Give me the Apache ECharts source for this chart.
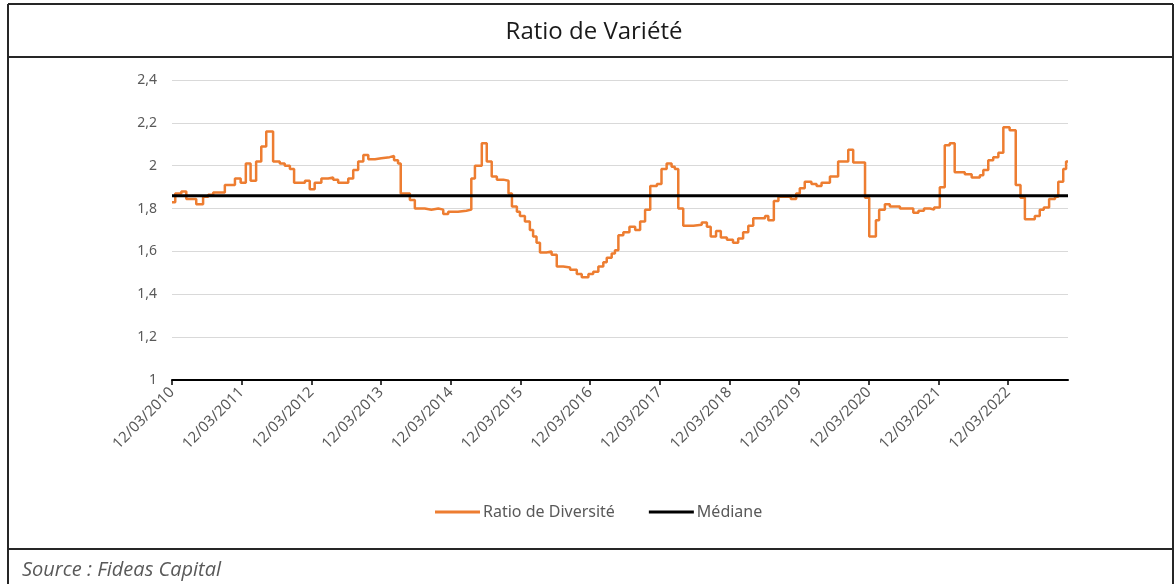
<!DOCTYPE html>
<html>
<head>
<meta charset="utf-8">
<script src="https://cdn.jsdelivr.net/npm/echarts@6/dist/echarts.min.js"></script>
<style>
  html, body { margin: 0; padding: 0; background: #fff; }
  #chart { width: 1176px; height: 584px; }
</style>
</head>
<body>
<div id="chart"></div>
<script>
// dates where the ratio changes level, and the level held from that date on
var stepDates = [
  '2010-03-12', '2010-03-29', '2010-04-30', '2010-05-26', '2010-07-17', '2010-08-22', '2010-09-18', '2010-10-14',
  '2010-12-14', '2011-02-05', '2011-03-07', '2011-04-03', '2011-04-28', '2011-05-27', '2011-06-23', '2011-07-19',
  '2011-08-24', '2011-09-28', '2011-10-24', '2011-11-20', '2011-12-12', '2012-02-07', '2012-03-03', '2012-03-29',
  '2012-05-03', '2012-06-08', '2012-07-04', '2012-07-30', '2012-09-21', '2012-10-17', '2012-11-12', '2012-12-09',
  '2013-01-04', '2013-02-08', '2013-03-13', '2013-04-26', '2013-05-19', '2013-06-09', '2013-06-23', '2013-08-10',
  '2013-09-05', '2013-10-27', '2013-12-01', '2014-01-06', '2014-02-01', '2014-02-27', '2014-04-19', '2014-06-02',
  '2014-06-28', '2014-07-17', '2014-08-22', '2014-09-17', '2014-10-13', '2014-11-09', '2014-12-13', '2015-01-09',
  '2015-01-27', '2015-02-22', '2015-03-10', '2015-04-05', '2015-05-01', '2015-05-18', '2015-06-05', '2015-06-23',
  '2015-07-27', '2015-08-23', '2015-09-19', '2015-10-23', '2015-11-28', '2016-01-02', '2016-01-28', '2016-03-03',
  '2016-03-28', '2016-04-24', '2016-05-20', '2016-06-07', '2016-07-03', '2016-07-20', '2016-08-07', '2016-09-02',
  '2016-10-04', '2016-11-03', '2016-11-29', '2016-12-25', '2017-01-21', '2017-02-25', '2017-03-21', '2017-04-17',
  '2017-05-13', '2017-05-30', '2017-06-17', '2017-07-13', '2017-09-04', '2017-10-18', '2017-11-14', '2017-12-04',
  '2018-01-01', '2018-01-26', '2018-02-27', '2018-03-31', '2018-04-27', '2018-05-23', '2018-06-19', '2018-07-15',
  '2018-09-15', '2018-10-02', '2018-10-31', '2018-11-24', '2019-01-28', '2019-02-25', '2019-03-16', '2019-04-11',
  '2019-05-16', '2019-06-12', '2019-07-08', '2019-08-21', '2019-10-03', '2019-11-25', '2019-12-21', '2020-02-21',
  '2020-03-14', '2020-04-18', '2020-05-05', '2020-06-04', '2020-06-30', '2020-08-22', '2020-10-31', '2020-11-27',
  '2020-12-26', '2021-01-27', '2021-02-17', '2021-03-19', '2021-04-14', '2021-05-10', '2021-06-05', '2021-07-28',
  '2021-09-02', '2021-10-15', '2021-11-02', '2021-11-28', '2021-12-24', '2022-01-20', '2022-02-15', '2022-03-20',
  '2022-04-21', '2022-05-16', '2022-06-08', '2022-07-30', '2022-08-25', '2022-09-15', '2022-10-13', '2022-11-13',
  '2022-11-30', '2022-12-26', '2023-01-10', '2023-01-20'
];
var ratioValues = [
  1.83, 1.87, 1.88, 1.845, 1.82, 1.855, 1.865, 1.875,
  1.91, 1.94, 1.92, 2.01, 1.93, 2.02, 2.09, 2.16,
  2.02, 2.01, 2.00, 1.985, 1.92, 1.93, 1.89, 1.92,
  1.94, 1.945, 1.935, 1.92, 1.94, 1.98, 2.02, 2.05,
  2.03, 2.035, 2.04, 2.045, 2.025, 2.01, 1.87, 1.84,
  1.80, 1.795, 1.80, 1.795, 1.775, 1.785, 1.79, 1.795,
  1.94, 2.00, 2.105, 2.02, 1.95, 1.935, 1.93, 1.87,
  1.81, 1.785, 1.765, 1.74, 1.70, 1.67, 1.64, 1.595,
  1.60, 1.585, 1.53, 1.525, 1.515, 1.495, 1.48, 1.495,
  1.505, 1.53, 1.55, 1.57, 1.59, 1.605, 1.675, 1.69,
  1.715, 1.70, 1.74, 1.795, 1.905, 1.915, 1.985, 2.01,
  1.995, 1.985, 1.80, 1.72, 1.725, 1.735, 1.715, 1.67,
  1.695, 1.665, 1.655, 1.64, 1.66, 1.69, 1.72, 1.755,
  1.765, 1.745, 1.835, 1.855, 1.845, 1.87, 1.895, 1.925,
  1.915, 1.905, 1.92, 1.95, 2.02, 2.075, 2.015, 1.85,
  1.67, 1.745, 1.795, 1.82, 1.81, 1.80, 1.78, 1.79,
  1.80, 1.795, 1.805, 1.90, 2.095, 2.105, 1.97, 1.96,
  1.945, 1.955, 1.98, 2.025, 2.04, 2.06, 2.18, 2.165,
  1.91, 1.85, 1.75, 1.765, 1.795, 1.805, 1.845, 1.855,
  1.925, 1.985, 2.02, 2.02
];
var medianValue = 1.86;
var tickYears = [2010, 2011, 2012, 2013, 2014, 2015, 2016, 2017, 2018, 2019, 2020, 2021, 2022];

function toTime(s) {
  var p = s.split('-');
  return new Date(+p[0], +p[1] - 1, +p[2]).getTime();
}
function pad(n) { return n < 10 ? '0' + n : '' + n; }

var startTime = toTime(stepDates[0]);
var endTime = toTime(stepDates[stepDates.length - 1]);
var ratioData = stepDates.map(function (d, i) { return [toTime(d), ratioValues[i]]; });
var medianData = [[startTime, medianValue], [endTime, medianValue]];
var tickTimes = tickYears.map(function (y) { return new Date(y, 2, 12).getTime(); });

var chart = echarts.init(document.getElementById('chart'));
var frame = { stroke: '#262626', lineWidth: 2 };
var option = {
  animation: false,
  backgroundColor: '#fff',
  graphic: [
    { type: 'line', shape: { x1: 8, y1: 4, x2: 1173, y2: 4 }, style: frame },
    { type: 'line', shape: { x1: 8, y1: 57, x2: 1173, y2: 57 }, style: frame },
    { type: 'line', shape: { x1: 8, y1: 549, x2: 1173, y2: 549 }, style: frame },
    { type: 'line', shape: { x1: 8, y1: 4, x2: 8, y2: 584 }, style: frame },
    { type: 'line', shape: { x1: 1173, y1: 4, x2: 1173, y2: 584 }, style: frame },
    {
      type: 'text', x: 594, y: 32,
      style: {
        text: 'Ratio de Variété', fill: '#1a1a1a', font: '24px "Open Sans"',
        textAlign: 'center', textVerticalAlign: 'middle'
      }
    },
    {
      type: 'text', x: 22, y: 570,
      style: {
        text: 'Source : Fideas Capital', fill: '#595959', font: 'italic 20px "Open Sans"',
        textAlign: 'left', textVerticalAlign: 'middle'
      }
    }
  ],
  grid: { left: 172, right: 108, top: 80, bottom: 204, outerBoundsMode: 'none' },
  legend: {
    left: 430, top: 499,
    icon: 'rect',
    itemWidth: 45, itemHeight: 3, itemGap: 34,
    textStyle: { color: '#595959', fontSize: 16, fontFamily: 'Noto Sans', padding: [0, 0, 0, -2] },
    data: ['Ratio de Diversité', 'Médiane']
  },
  xAxis: {
    type: 'value',
    min: startTime,
    max: endTime,
    axisLine: { lineStyle: { color: '#000', width: 2 } },
    axisTick: { show: true, length: 5, customValues: tickTimes, lineStyle: { color: '#000', width: 1.5 } },
    splitLine: { show: false },
    axisLabel: {
      customValues: tickTimes,
      rotate: 45,
      margin: 10,
      color: '#595959',
      fontSize: 15,
      fontFamily: 'Noto Sans',
      formatter: function (v) {
        var d = new Date(v);
        return pad(d.getDate()) + '/' + pad(d.getMonth() + 1) + '/' + d.getFullYear();
      }
    }
  },
  yAxis: {
    type: 'value',
    min: 1, max: 2.4, interval: 0.2,
    axisLine: { show: false },
    axisTick: { show: false },
    splitLine: { lineStyle: { color: '#d9d9d9', width: 1 } },
    axisLabel: {
      margin: 15,
      color: '#595959',
      fontSize: 14,
      fontFamily: 'Noto Sans',
      formatter: function (v) { return String(Math.round(v * 10) / 10).replace('.', ','); }
    }
  },
  series: [
    {
      name: 'Ratio de Diversité',
      type: 'line',
      step: 'end',
      symbol: 'none',
      data: ratioData,
      color: '#ED7D31',
      lineStyle: { color: '#ED7D31', width: 2.5 }
    },
    {
      name: 'Médiane',
      type: 'line',
      symbol: 'none',
      data: medianData,
      color: '#000',
      lineStyle: { color: '#000', width: 3 }
    }
  ]
};
chart.setOption(option);
</script>
</body>
</html>
